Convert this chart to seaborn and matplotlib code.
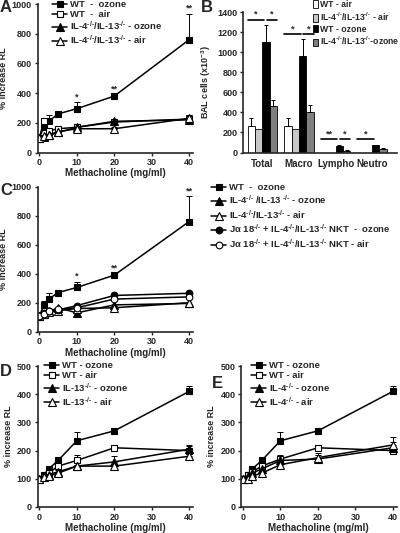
import numpy as np
import pandas as pd
import matplotlib
matplotlib.use('Agg')
import matplotlib.pyplot as plt
from matplotlib.patches import Patch
import seaborn as sns

sns.set_style('ticks')
plt.rcParams['font.family'] = ['Liberation Sans', 'DejaVu Sans']
plt.rcParams['font.weight'] = 'bold'
plt.rcParams['axes.labelweight'] = 'bold'
plt.rcParams['mathtext.fontset'] = 'custom'
plt.rcParams['mathtext.rm'] = 'Liberation Sans:bold'
plt.rcParams['mathtext.default'] = 'rm'

KO = r'$^{\text{-/-}}$'

# methacholine doses (mg/ml)
dose = [0, 1.25, 2.5, 5, 10, 20, 40]

# Panel A
a_wt_ozone = [100, 175, 210, 260, 295, 380, 760]
a_wt_ozone_err = [0, 20, 45, 10, 45, 10, 175]
a_wt_air = [100, 215, 145, 160, 170, 205, 225]
a_wt_air_err = [0, 20, 0, 10, 10, 10, 30]
a_il_ozone = [100, 105, 115, 135, 170, 210, 220]
a_il_ozone_err = [0, 0, 0, 10, 10, 10, 15]
a_il_air = [100, 110, 120, 140, 160, 160, 230]
a_il_air_err = [0, 0, 0, 10, 10, 10, 20]

# Panel B
cells = ['Total', 'Macro', 'Lympho', 'Neutro']
b_groups = ['WT - air', 'IL-4' + KO + '/IL-13' + KO + ' - air', 'WT - ozone', 'IL-4' + KO + '/IL-13' + KO + '-ozone']
b_wt_air = [260, 260, 0, 0]
b_wt_air_err = [80, 80, 0, 0]
b_il_air = [235, 235, 0, 0]
b_il_air_err = [0, 0, 0, 0]
b_wt_ozone = [1100, 960, 65, 70]
b_wt_ozone_err = [170, 170, 10, 8]
b_il_ozone = [460, 405, 15, 35]
b_il_ozone_err = [60, 70, 5, 10]
b_colors = ['white', '#c8c8c8', 'black', '#7f7f7f']

# Panel C
c_wt_ozone = [110, 185, 225, 270, 305, 390, 760]
c_wt_ozone_err = [0, 30, 40, 10, 40, 10, 175]
c_il_ozone = [110, 125, 140, 165, 130, 185, 195]
c_il_air = [110, 120, 135, 145, 160, 165, 200]
c_nkt_ozone = [110, 130, 145, 150, 180, 250, 265]
c_nkt_air = [110, 125, 140, 155, 165, 225, 240]

# Panel D
d_wt_ozone = [100, 115, 135, 165, 235, 270, 410]
d_wt_ozone_err = [0, 0, 0, 5, 30, 5, 20]
d_wt_air = [100, 105, 120, 145, 165, 210, 200]
d_wt_air_err = [0, 0, 0, 5, 20, 5, 15]
d_il13_ozone = [100, 110, 115, 125, 145, 160, 205]
d_il13_ozone_err = [0, 0, 0, 5, 5, 20, 15]
d_il13_air = [100, 105, 110, 120, 145, 145, 180]
d_il13_air_err = [0, 0, 0, 5, 5, 5, 10]

# Panel E
e_wt_ozone = [100, 115, 135, 165, 235, 270, 410]
e_wt_ozone_err = [0, 0, 0, 5, 30, 5, 20]
e_wt_air = [100, 115, 125, 145, 170, 210, 200]
e_wt_air_err = [0, 0, 0, 5, 15, 10, 10]
e_il4_ozone = [100, 110, 120, 135, 165, 170, 210]
e_il4_ozone_err = [0, 0, 0, 5, 10, 15, 20]
e_il4_air = [100, 100, 110, 120, 150, 175, 220]
e_il4_air_err = [0, 0, 0, 5, 10, 15, 30]

W, H = 400, 533
fig = plt.figure(figsize=(W / 100, H / 100), dpi=100)


def box(left, top, right, bottom):
    return [left / W, (H - bottom) / H, (right - left) / W, (bottom - top) / H]


def style_ax(ax, tick_fs=6.5):
    sns.despine(ax=ax)
    for s in ['left', 'bottom']:
        ax.spines[s].set_linewidth(1.2)
    ax.tick_params(width=1.0, length=2.5, labelsize=tick_fs, pad=1.5)
    for lab in ax.get_xticklabels() + ax.get_yticklabels():
        lab.set_fontweight('bold')


def series(ax, y, err, marker, filled, label, ms=4.8):
    if marker == '^':
        ms += 0.6
    sns.lineplot(x=dose, y=y, ax=ax, color='black', marker=marker, markersize=ms,
                 markerfacecolor='black' if filled else 'white', markeredgecolor='black',
                 markeredgewidth=0.8, linewidth=1.1, label=label, legend=False)
    if err is not None:
        ax.errorbar(dose, y, yerr=[np.zeros(len(y)), err], fmt='none', ecolor='black',
                    elinewidth=0.7, capsize=2, capthick=0.7, zorder=1)


def dose_axes(ax, ymax, step, ylabel_pad=3):
    ax.set_xlim(-0.5, 41)
    ax.set_ylim(0, ymax)
    ax.set_xticks([0, 10, 20, 30, 40])
    ax.set_yticks(np.arange(0, ymax + 1, step))
    ax.set_xlabel('Methacholine (mg/ml)', fontsize=7, labelpad=1)
    ax.set_ylabel('% increase RL', fontsize=6.5, labelpad=ylabel_pad)
    style_ax(ax)


def line_legend(ax, x, y, fs=6.8, spacing=0.1):
    h, l = ax.get_legend_handles_labels()
    ax.legend(h, l, loc='upper left', bbox_to_anchor=(x / W, 1 - y / H),
              bbox_transform=fig.transFigure, frameon=False, fontsize=fs,
              handlelength=1.6, handletextpad=0.35, labelspacing=spacing, borderpad=0,
              borderaxespad=0)


def stars(ax, x, y, s):
    ax.text(x, y, s, ha='center', va='bottom', fontsize=6.5, fontweight='bold')


# ---- A
axA = fig.add_axes(box(37.5, 4, 193, 152.5))
series(axA, a_wt_ozone, a_wt_ozone_err, 's', True, 'WT  -  ozone')
series(axA, a_wt_air, a_wt_air_err, 's', False, 'WT  -  air')
series(axA, a_il_ozone, a_il_ozone_err, '^', True, 'IL-4' + KO + '/IL-13' + KO + ' - ozone')
series(axA, a_il_air, a_il_air_err, '^', False, 'IL-4' + KO + '/IL-13' + KO + ' - air')
dose_axes(axA, 1000, 200)
line_legend(axA, 52, 0)
stars(axA, 10, 345, '*')
stars(axA, 20, 395, '**')
stars(axA, 40, 945, '**')

# ---- B
axB = fig.add_axes(box(243, 12, 397, 152.5))
df_b = pd.DataFrame({
    'cell': cells * 4,
    'group': np.repeat(b_groups, 4),
    'value': b_wt_air + b_il_air + b_wt_ozone + b_il_ozone,
    'err': b_wt_air_err + b_il_air_err + b_wt_ozone_err + b_il_ozone_err,
})
sns.barplot(data=df_b, x='cell', y='value', hue='group', hue_order=b_groups, palette=b_colors,
            edgecolor='black', linewidth=0.6, width=0.8, legend=False, ax=axB)
for grp_i, grp in enumerate(b_groups):
    sub = df_b[df_b['group'] == grp]
    xs = np.arange(4) - 0.3 + 0.2 * grp_i
    keep = sub['err'].values > 0
    axB.errorbar(xs[keep], sub['value'].values[keep], yerr=[np.zeros(keep.sum()), sub['err'].values[keep]],
                 fmt='none', ecolor='black', elinewidth=0.7, capsize=1.5, capthick=0.7)
axB.set_xlim(-0.53, 3.68)
axB.set_ylim(0, 1400)
axB.set_yticks(np.arange(0, 1401, 200))
axB.set_xlabel('')
axB.set_ylabel('BAL cells (x10$^{-3}$)', fontsize=6.5, labelpad=3)
style_ax(axB)
axB.tick_params(axis='x', length=0, labelsize=7, pad=5)
for lab in axB.get_xticklabels():
    lab.set_fontweight('bold')
# significance lines
sig = [(0, 1320, '*', '*'), (1, 1180, '*', '*'), (2, 130, '**', '*'), (3, 130, '*', None)]
for c, yv, s1, s2 in sig:
    axB.plot([c - 0.4, c + 0.05], [yv, yv], color='black', lw=1.2)
    stars(axB, c - 0.17, yv + 10, s1)
    if s2:
        axB.plot([c + 0.12, c + 0.4], [yv, yv], color='black', lw=1.2)
        stars(axB, c + 0.26, yv + 10, s2)
handles = [Patch(facecolor=col, edgecolor='black', linewidth=0.6) for col in b_colors]
axB.legend(handles, b_groups, loc='upper left', bbox_to_anchor=(313 / W, 1 - 0 / H),
           bbox_transform=fig.transFigure, frameon=False, fontsize=6.2,
           handlelength=0.6, handleheight=1.0, handletextpad=0.2, labelspacing=0.18,
           borderpad=0, borderaxespad=0)

# ---- C
axC = fig.add_axes(box(37.5, 186.7, 193, 331.7))
series(axC, c_wt_ozone, c_wt_ozone_err, 's', True, 'WT  -  ozone')
series(axC, c_il_ozone, None, '^', True, 'IL-4' + KO + ' /IL-13 ' + KO + ' - ozone')
series(axC, c_il_air, None, '^', False, 'IL-4' + KO + '/IL-13' + KO + ' - air')
series(axC, c_nkt_ozone, None, 'o', True, 'Jα 18' + KO + ' + IL-4' + KO + '/IL-13' + KO + ' NKT  -  ozone')
series(axC, c_nkt_air, None, 'o', False, 'Jα 18' + KO + ' + IL-4' + KO + '/IL-13' + KO + ' NKT - air')
dose_axes(axC, 1000, 200)
line_legend(axC, 211, 183, fs=6.8, spacing=0.2)
stars(axC, 10, 350, '*')
stars(axC, 20, 405, '**')
stars(axC, 40, 940, '**')

# ---- D
axD = fig.add_axes(box(37.5, 366, 193, 507))
series(axD, d_wt_ozone, d_wt_ozone_err, 's', True, 'WT - ozone')
series(axD, d_wt_air, d_wt_air_err, 's', False, 'WT - air')
series(axD, d_il13_ozone, d_il13_ozone_err, '^', True, 'IL-13' + KO + ' - ozone')
series(axD, d_il13_air, d_il13_air_err, '^', False, 'IL-13' + KO + ' - air')
dose_axes(axD, 500, 100)
line_legend(axD, 44, 361, fs=6.8, spacing=0.12)

# ---- E
axE = fig.add_axes(box(241.1, 366, 396.6, 507))
series(axE, e_wt_ozone, e_wt_ozone_err, 's', True, 'WT - ozone')
series(axE, e_wt_air, e_wt_air_err, 's', False, 'WT - air')
series(axE, e_il4_ozone, e_il4_ozone_err, '^', True, 'IL-4' + KO + ' - ozone')
series(axE, e_il4_air, e_il4_air_err, '^', False, 'IL-4' + KO + ' - air')
dose_axes(axE, 500, 100)
line_legend(axE, 251, 361, fs=6.8, spacing=0.12)

# panel letters
for lx, ly, t in [(0, 0, 'A'), (201, 0, 'B'), (0, 183, 'C'), (0, 364, 'D'), (212, 376, 'E')]:
    fig.text(lx / W, 1 - ly / H, t, fontsize=12, fontweight='bold', ha='left', va='top')

fig.savefig('out.png', dpi=100)
